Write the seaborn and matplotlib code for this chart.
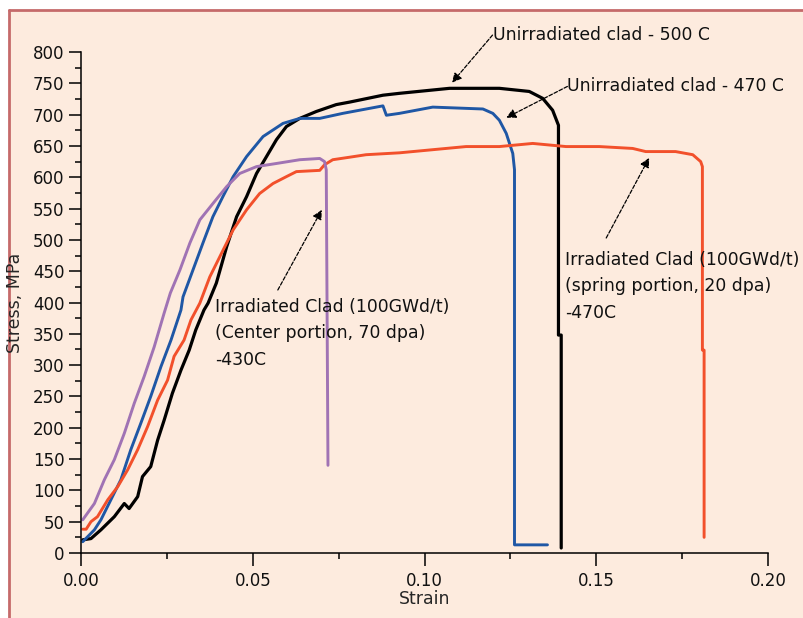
import matplotlib
matplotlib.use("Agg")
import matplotlib.pyplot as plt
import seaborn as sns
import pandas as pd
from matplotlib.patches import Rectangle
from matplotlib.lines import Line2D
from matplotlib.ticker import MultipleLocator

# ---------------- data ----------------
strain_500 = [0.0005, 0.0029, 0.0058, 0.0097, 0.0126, 0.0140, 0.0165, 0.0179, 0.0203, 0.0223,
              0.0242, 0.0266, 0.0291, 0.0315, 0.0334, 0.0358, 0.0370, 0.0394, 0.0424, 0.0453,
              0.0482, 0.0511, 0.0540, 0.0569, 0.0598, 0.0637, 0.0685, 0.0743, 0.0782, 0.0879,
              0.0927, 0.1073, 0.1218, 0.1305, 0.1344, 0.1373, 0.1390, 0.1390, 0.1398, 0.1398]
stress_500 = [21, 23, 37, 58, 79, 71, 90, 122, 138, 180,
              212, 255, 292, 324, 356, 388, 399, 431, 489, 537,
              569, 606, 633, 660, 681, 694, 705, 716, 720, 731,
              734, 742, 742, 737, 726, 707, 683, 348, 348, 8]

strain_470 = [0.0005, 0.0039, 0.0058, 0.0087, 0.0116, 0.0145, 0.0174, 0.0203, 0.0233, 0.0262,
              0.0291, 0.0297, 0.0326, 0.0355, 0.0384, 0.0413, 0.0443, 0.0482, 0.0530, 0.0588,
              0.0637, 0.0695, 0.0762, 0.0879, 0.0889, 0.0927, 0.1024, 0.1170, 0.1199, 0.1218,
              0.1238, 0.1257, 0.1262, 0.1262, 0.1358]
stress_470 = [18, 37, 53, 85, 117, 165, 207, 250, 298, 340,
              388, 409, 452, 495, 537, 569, 601, 633, 665, 686,
              694, 694, 702, 714, 699, 702, 712, 709, 702, 691,
              670, 638, 612, 13, 13]

strain_spring = [0.0005, 0.0015, 0.0029, 0.0048, 0.0078, 0.0107, 0.0136, 0.0165, 0.0194, 0.0223,
                 0.0252, 0.0271, 0.0300, 0.0320, 0.0346, 0.0375, 0.0404, 0.0443, 0.0482, 0.0520,
                 0.0559, 0.0598, 0.0627, 0.0695, 0.0709, 0.0733, 0.0782, 0.0830, 0.0927, 0.1024,
                 0.1121, 0.1218, 0.1315, 0.1412, 0.1509, 0.1606, 0.1644, 0.1731, 0.1781, 0.1804,
                 0.1809, 0.1809, 0.1814, 0.1814]
stress_spring = [38, 38, 50, 58, 85, 106, 133, 165, 202, 244,
                 276, 314, 340, 372, 399, 441, 473, 516, 548, 574,
                 590, 601, 609, 611, 620, 628, 632, 636, 639, 644,
                 649, 649, 654, 649, 649, 646, 641, 641, 636, 625,
                 617, 324, 324, 25]

strain_center = [0.0005, 0.0039, 0.0068, 0.0097, 0.0126, 0.0155, 0.0184, 0.0213, 0.0242, 0.0260,
                 0.0288, 0.0317, 0.0346, 0.0384, 0.0424, 0.0462, 0.0511, 0.0569, 0.0637, 0.0695,
                 0.0709, 0.0714, 0.0719]
stress_center = [53, 79, 117, 149, 191, 239, 282, 329, 383, 415,
                 452, 495, 532, 558, 585, 606, 617, 622, 628, 630,
                 625, 612, 140]

series_names = ["Unirradiated clad - 500 C", "Unirradiated clad - 470 C",
                "Irradiated spring 470C", "Irradiated center 430C"]
series_colors = ["#000000", "#1F57A5", "#F2502B", "#A073B4"]

x_ticks = [0.00, 0.05, 0.10, 0.15, 0.20]
x_tick_labels = ["0.00", "0.05", "0.10", "0.15", "0.20"]
y_ticks = list(range(0, 801, 50))

annotations = [
    ("Unirradiated clad - 500 C", (0.1080, 751), (0.1198, 827)),
    ("Unirradiated clad - 470 C", (0.1238, 695), (0.1416, 745)),
    ("Irradiated Clad (100GWd/t)\n(spring portion, 20 dpa)\n-470C", (0.1654, 631), (0.1529, 503)),
    ("Irradiated Clad (100GWd/t)\n(Center portion, 70 dpa)\n-430C", (0.0701, 548), (0.0573, 420)),
]
text_positions = [
    (0.1198, 827), (0.1414, 745), (0.1410, 426), (0.0390, 351),
]

# ---------------- figure ----------------
sns.set_theme(style="ticks")
plt.rcParams['font.family'] = ['DejaVu Sans']

bg = "#FDEBDE"
fig = plt.figure(figsize=(8.04, 6.18), dpi=100, facecolor="white")
fig.patches.append(Rectangle((9 / 804, 0), 1, 1 - 10 / 618, transform=fig.transFigure,
                             facecolor=bg, edgecolor="none", zorder=-10))
fig.lines.append(Line2D([9 / 804, 9 / 804], [0, 1 - 10 / 618], transform=fig.transFigure,
                        color="#C56A6A", lw=2.0, zorder=-5))
fig.lines.append(Line2D([9 / 804, 1], [1 - 10 / 618, 1 - 10 / 618], transform=fig.transFigure,
                        color="#C56A6A", lw=2.0, zorder=-5))

ax = fig.add_axes([81 / 804, 1 - 553 / 618, 687 / 804, 501 / 618])
ax.set_facecolor("none")
ax.set_zorder(1)

frames = [
    (strain_500, stress_500),
    (strain_470, stress_470),
    (strain_spring, stress_spring),
    (strain_center, stress_center),
]
lws = [2.3, 2.1, 2.1, 2.1]
for (xs, ys), name, col, lw in zip(frames, series_names, series_colors, lws):
    df = pd.DataFrame({"Strain": xs, "Stress": ys})
    sns.lineplot(data=df, x="Strain", y="Stress", sort=False, estimator=None,
                 color=col, lw=lw, ax=ax, legend=False)

ax.set_xlim(0, 0.20)
ax.set_ylim(0, 800)
ax.set_xticks(x_ticks)
ax.set_xticklabels(x_tick_labels)
ax.set_yticks(y_ticks)
ax.xaxis.set_minor_locator(MultipleLocator(0.025))
ax.yaxis.set_minor_locator(MultipleLocator(25))
ax.tick_params(which="major", length=9, width=1.1, color="black", labelsize=12,
               labelcolor="#111111")
ax.tick_params(axis="y", which="major", pad=3)
ax.tick_params(axis="x", which="major", pad=5)
ax.tick_params(which="minor", length=4.5, width=1.1, color="black")
for s in ["top", "right"]:
    ax.spines[s].set_visible(False)
for s in ["left", "bottom"]:
    ax.spines[s].set_linewidth(1.1)
    ax.spines[s].set_color("black")

ax.set_xlabel("Strain", fontsize=12.5, labelpad=0)
ax.set_ylabel("Stress, MPa", fontsize=12.5, labelpad=6)

for (txt, tip, tail), tpos in zip(annotations, text_positions):
    ax.annotate("", xy=tip, xytext=tail,
                arrowprops=dict(arrowstyle="-|>", lw=0.9, color="black",
                                mutation_scale=14, shrinkA=0, shrinkB=0,
                                linestyle=(0, (3, 1.5))))
    ax.text(tpos[0], tpos[1], txt, fontsize=12.4, ha="left", va="center",
            linespacing=1.62, color="#111111")

fig.savefig("out.png", dpi=100, facecolor="white")
